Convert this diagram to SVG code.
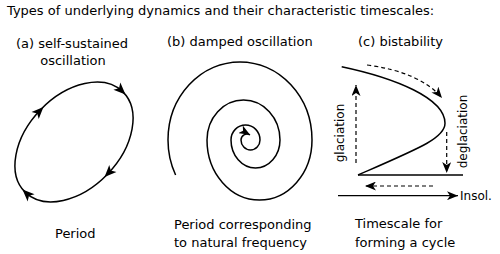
<svg xmlns="http://www.w3.org/2000/svg" xmlns:xlink="http://www.w3.org/1999/xlink" width="500" height="254" viewBox="0 0 500 254">
<style>
text{font-family:"DejaVu Sans","Liberation Sans",sans-serif;font-size:13px;fill:#000}
.sm{font-size:12px}
.ln{fill:none;stroke:#000;stroke-width:1.5}
.ds{fill:none;stroke:#000;stroke-width:1.2;stroke-dasharray:4 3}
.ax{fill:none;stroke:#000;stroke-width:1.2}
</style>
<defs>
<marker id="arr" markerUnits="userSpaceOnUse" viewBox="0 0 11 9" refX="11" refY="4.5" markerWidth="11" markerHeight="9" orient="auto">
<path d="M0,0 L11,4.5 L0,9 L3,4.5 Z" fill="#000"/>
</marker>
<path id="ah" d="M0,0 L-12,-5 L-9,0 L-12,5 Z" fill="#000"/>
</defs>
<text x="7" y="15">Types of underlying dynamics and their characteristic timescales:</text>
<g id="panel-a">
<text x="72" y="48" text-anchor="middle">(a) self-sustained</text>
<text x="73" y="65" text-anchor="middle">oscillation</text>
<g transform="translate(74,142) rotate(-46)">
<ellipse cx="0" cy="0" rx="70" ry="46.5" class="ln"/>
<use xlink:href="#ah" transform="translate(70,4) rotate(90)"/>
<use xlink:href="#ah" transform="translate(-4,46.3) rotate(180)"/>
<use xlink:href="#ah" transform="translate(-70,-4) rotate(270)"/>
<use xlink:href="#ah" transform="translate(4,-46.3)"/>
</g>
<text x="55" y="238">Period</text>
</g>
<g id="panel-b">
<text x="167" y="46">(b) damped oscillation</text>
<path class="ln" marker-end="url(#arr)" d="M175.6,175 A72,78 0 0 1 168,140 A72,78 0 0 1 312,140 A52.5,60 0 0 1 207,140 A36.5,40 0 0 1 280,140 A24.5,28 0 0 1 231,140 A14.5,15 0 0 1 260,140 A9.5,10 0 0 1 241,140 A6,6 0 0 1 250,134.8"/>
<text x="174" y="229">Period corresponding</text>
<text x="174" y="247">to natural frequency</text>
</g>
<g id="panel-c">
<text x="358" y="46">(c) bistability</text>
<path class="ln" d="M341.7,66.7 C395,78 445,98 445,123.3 C445,138 420,148 358,175"/>
<line class="ln" x1="358" y1="175" x2="463" y2="175"/>
<text class="sm" transform="translate(344,133) rotate(-90)" text-anchor="middle">glaciation</text>
<text class="sm" transform="translate(467,131.5) rotate(-90)" text-anchor="middle">deglaciation</text>
<text class="sm" x="460" y="200">Insol.</text>
<text x="355" y="228">Timescale for</text>
<text x="355" y="247">forming a cycle</text>
</g>
<g id="connectors">
<path class="ds" marker-end="url(#arr)" d="M356,163 L356,85"/>
<path class="ds" marker-end="url(#arr)" d="M367,65 Q420,72 442,98"/>
<path class="ds" marker-end="url(#arr)" d="M446.7,132 L446.7,173"/>
<path class="ds" marker-end="url(#arr)" d="M433,186 L365,186"/>
<path class="ax" marker-end="url(#arr)" d="M338,195.7 L458,195.7"/>
</g>
</svg>
